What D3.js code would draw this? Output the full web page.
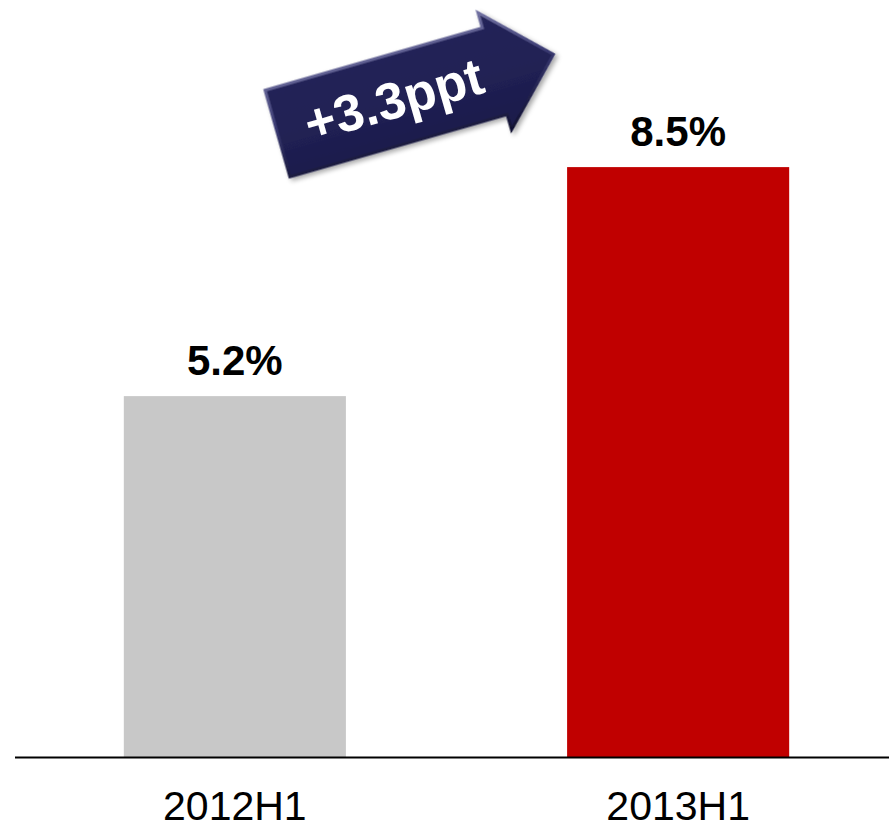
<!DOCTYPE html>
<html>
<head>
<meta charset="utf-8">
<script src="https://cdn.jsdelivr.net/npm/d3@7"></script>
<style>
  body { margin: 0; background: #fff; }
  text { font-family: Arial, "Liberation Sans", sans-serif; }
</style>
</head>
<body>
<div id="chart"></div>
<script>
// chart data
const periods = ["2012H1", "2013H1"];
const rates = [5.2, 8.5];
const barColors = ["#c8c8c8", "#c00000"];
const changeLabel = "+3.3ppt";

const width = 889, height = 823;

const svg = d3.select('#chart')
    .append('svg')
    .attr('width', width)
    .attr('height', height);

// scales
const xScale = d3.scaleBand()
    .domain(periods)
    .range([13, 900])
    .paddingInner(0.499)
    .paddingOuter(0.25);

const yScale = d3.scaleLinear()
    .domain([0, 10])
    .range([757, 63]);

// bars
svg.selectAll('.bar')
    .data(periods)
    .enter().append('rect')
    .attr('class', 'bar')
    .attr('x', d => xScale(d))
    .attr('width', xScale.bandwidth())
    .attr('y', (d, i) => yScale(rates[i]))
    .attr('height', (d, i) => yScale(0) - yScale(rates[i]))
    .attr('fill', (d, i) => barColors[i]);

// value labels
svg.selectAll('.value')
    .data(periods)
    .enter().append('text')
    .attr('class', 'value')
    .attr('x', d => xScale(d) + xScale.bandwidth() / 2)
    .attr('y', (d, i) => yScale(rates[i]) - 21)
    .attr('text-anchor', 'middle')
    .attr('font-size', 42)
    .attr('font-weight', 'bold')
    .attr('fill', '#000')
    .text((d, i) => rates[i].toFixed(1) + '%');

// x axis labels, baseline drawn separately
const xAxis = d3.axisBottom(xScale).tickSize(0).tickPadding(34);
const xAxisG = svg.append('g')
    .attr('transform', `translate(0, ${yScale(0)})`)
    .call(xAxis);
xAxisG.select('.domain').remove();
xAxisG.selectAll('text')
    .attr('font-size', 41)
    .attr('font-family', 'Arial, "Liberation Sans", sans-serif')
    .attr('fill', '#000');

svg.append('line')
    .attr('x1', 15).attr('x2', width)
    .attr('y1', yScale(0) + 0.5).attr('y2', yScale(0) + 0.5)
    .attr('stroke', '#000')
    .attr('stroke-width', 2);

// arrow with change label
const defs = svg.append('defs');
const grad = defs.append('linearGradient')
    .attr('id', 'arrowStroke')
    .attr('x1', 0).attr('y1', 0).attr('x2', 0).attr('y2', 1);
grad.append('stop').attr('offset', '0%').attr('stop-color', '#7070a0');
grad.append('stop').attr('offset', '45%').attr('stop-color', '#3a3a72');
grad.append('stop').attr('offset', '100%').attr('stop-color', '#101030');

const fillGrad = defs.append('linearGradient')
    .attr('id', 'arrowFill')
    .attr('x1', 0).attr('y1', 0).attr('x2', 0).attr('y2', 1);
fillGrad.append('stop').attr('offset', '0%').attr('stop-color', '#252559');
fillGrad.append('stop').attr('offset', '50%').attr('stop-color', '#212154');
fillGrad.append('stop').attr('offset', '100%').attr('stop-color', '#1b1b4a');

const shadow = defs.append('filter').attr('id', 'shadow')
    .attr('x', '-10%').attr('y', '-10%').attr('width', '130%').attr('height', '140%');
shadow.append('feGaussianBlur').attr('in', 'SourceAlpha').attr('stdDeviation', 2.5);
shadow.append('feOffset').attr('dx', 2).attr('dy', 3).attr('result', 'b');
shadow.append('feComponentTransfer').append('feFuncA').attr('type', 'linear').attr('slope', 0.35);
const merge = shadow.append('feMerge');
merge.append('feMergeNode');
merge.append('feMergeNode').attr('in', 'SourceGraphic');

const shaftLen = 226, shaftHalf = 45, headHalf = 61, tipLen = 287;
const arrowG = svg.append('g')
    .attr('transform', 'translate(277.5,133.5) rotate(-16)');

const arrowPath = d3.path();
arrowPath.moveTo(0, -shaftHalf);
arrowPath.lineTo(shaftLen, -shaftHalf);
arrowPath.lineTo(shaftLen, -headHalf);
arrowPath.lineTo(tipLen, 0);
arrowPath.lineTo(shaftLen, headHalf);
arrowPath.lineTo(shaftLen, shaftHalf);
arrowPath.lineTo(0, shaftHalf);
arrowPath.closePath();

arrowG.append('path')
    .attr('d', arrowPath.toString())
    .attr('fill', 'url(#arrowFill)')
    .attr('stroke', 'url(#arrowStroke)')
    .attr('stroke-width', 3)
    .attr('stroke-linejoin', 'miter')
    .attr('filter', 'url(#shadow)');

arrowG.append('text')
    .attr('x', 121)
    .attr('y', -1)
    .attr('dy', '0.36em')
    .attr('text-anchor', 'middle')
    .attr('font-size', 52)
    .attr('font-weight', 'bold')
    .attr('fill', '#fff')
    .text(changeLabel);
</script>
</body>
</html>
